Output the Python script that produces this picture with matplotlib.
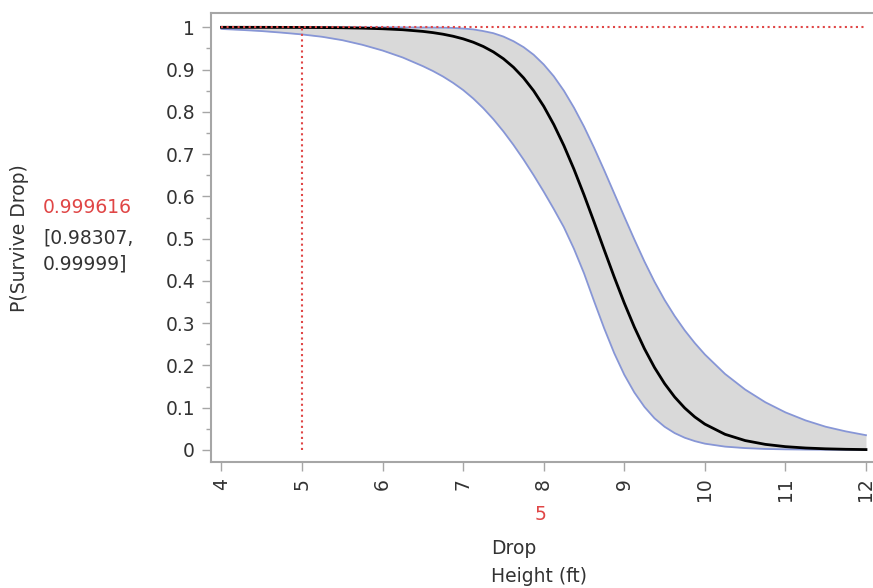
import matplotlib
matplotlib.use("Agg")
import matplotlib.pyplot as plt
from matplotlib.ticker import MultipleLocator

# drop height (ft) and predicted survival probability with confidence band
height = [4.00, 4.25, 4.50, 4.75, 5.00, 5.25, 5.50, 5.75, 6.00, 6.25, 6.50,
          6.625, 6.75, 6.875, 7.00, 7.125, 7.25, 7.375, 7.50, 7.625, 7.75,
          7.875, 8.00, 8.125, 8.25, 8.375, 8.50, 8.625, 8.75, 8.875, 9.00,
          9.125, 9.25, 9.375, 9.50, 9.625, 9.75, 9.875, 10.00, 10.25, 10.50,
          10.75, 11.00, 11.25, 11.50, 11.75, 12.00]
p_survive = [0.99995, 0.99992, 0.99986, 0.99976, 0.99962, 0.99935, 0.99887,
             0.99800, 0.99650, 0.99420, 0.99025, 0.98735, 0.98362, 0.97881,
             0.97261, 0.96467, 0.95456, 0.94171, 0.92553, 0.90531, 0.88027,
             0.84972, 0.81306, 0.76985, 0.72011, 0.66429, 0.60348, 0.53930,
             0.47377, 0.40913, 0.34751, 0.29059, 0.23958, 0.19505, 0.15709,
             0.12537, 0.09930, 0.07817, 0.06123, 0.03715, 0.02231, 0.01332,
             0.00792, 0.00470, 0.00279, 0.00165, 0.00098]
p_lower = [0.9960, 0.9937, 0.9910, 0.9873, 0.9831, 0.9775, 0.9695, 0.9585,
           0.9450, 0.9285, 0.9080, 0.8965, 0.8835, 0.8685, 0.8515, 0.8315,
           0.8085, 0.7825, 0.7535, 0.7215, 0.6870, 0.6500, 0.6110, 0.5700,
           0.5270, 0.4760, 0.4180, 0.3520, 0.2880, 0.2290, 0.1780, 0.1360,
           0.1020, 0.0750, 0.0550, 0.0400, 0.0290, 0.0210, 0.0150, 0.0080,
           0.0045, 0.0025, 0.0015, 0.0010, 0.0007, 0.0005, 0.0003]
p_upper = [1.0000, 1.0000, 1.0000, 0.99999, 0.99999, 0.99998, 0.99997,
           0.99995, 0.9999, 0.9998, 0.9995, 0.9993, 0.9990, 0.9985, 0.9970,
           0.9950, 0.9910, 0.9860, 0.9780, 0.9670, 0.9530, 0.9350, 0.9120,
           0.8840, 0.8500, 0.8100, 0.7650, 0.7150, 0.6620, 0.6070, 0.5520,
           0.4980, 0.4460, 0.3980, 0.3550, 0.3170, 0.2830, 0.2530, 0.2260,
           0.1800, 0.1430, 0.1130, 0.0890, 0.0700, 0.0550, 0.0440, 0.0350]

cur_height = 5
cur_p = 0.999616
cur_lo = 0.98307
cur_hi = 0.99999

red = "#e04646"
edge = "#8796d6"
grey = "#a6a6a6"
txt = "#333333"

W, H = 873, 588
fig = plt.figure(figsize=(W / 100, H / 100), dpi=100)
ax = fig.add_axes([211 / W, (H - 461.7) / H, (W - 211) / W, 448.2 / H])

ax.fill_between(height, p_lower, p_upper, color="#d9d9d9", lw=0)
ax.plot(height, p_lower, color=edge, lw=1.3)
ax.plot(height, p_upper, color=edge, lw=1.3)
ax.plot(height, p_survive, color="black", lw=2)

ax.plot([cur_height, cur_height], [0, cur_p], color=red, ls=":", lw=1.5)
ax.plot([height[0], height[-1]], [cur_p, cur_p], color=red, ls=":", lw=1.5)

ax.set_xlim(3.87, 12.087)
ax.set_ylim(-0.0277, 1.0326)
ax.set_xticks(range(4, 13))
ax.set_yticks([i / 10 for i in range(11)])
ax.set_yticklabels(["0"] + ["0.%d" % i for i in range(1, 10)] + ["1"])
ax.yaxis.set_minor_locator(MultipleLocator(0.05))

ax.spines["right"].set_visible(False)
for s in ("left", "top", "bottom"):
    ax.spines[s].set_color(grey)
    ax.spines[s].set_linewidth(1.5)

ax.tick_params(axis="both", which="major", length=6.5, width=1, color=grey,
               labelsize=13.5, labelcolor=txt, pad=5)
ax.tick_params(axis="y", which="minor", length=3.5, width=1, color=grey)
for lab in ax.get_xticklabels():
    lab.set_rotation(90)

def px(x, y):
    return x / W, 1 - y / H

fig.text(*px(20, 238), "P(Survive Drop)", rotation=90, ha="center",
         va="center", fontsize=13.5, color=txt)
fig.text(*px(43, 208), "%g" % cur_p, ha="left", va="center", fontsize=13.5,
         color=red)
fig.text(*px(43, 238), "[%g," % cur_lo, ha="left", va="center",
         fontsize=13.5, color=txt)
fig.text(*px(43, 264), "%g]" % cur_hi, ha="left", va="center",
         fontsize=13.5, color=txt)

fig.text(*px(540, 515), str(cur_height), ha="center", va="center",
         fontsize=13.5, color=red)
fig.text(*px(491, 549), "Drop", ha="left", va="center", fontsize=13.5,
         color=txt)
fig.text(*px(491, 577), "Height (ft)", ha="left", va="center", fontsize=13.5,
         color=txt)

fig.savefig("out.png", dpi=100)
